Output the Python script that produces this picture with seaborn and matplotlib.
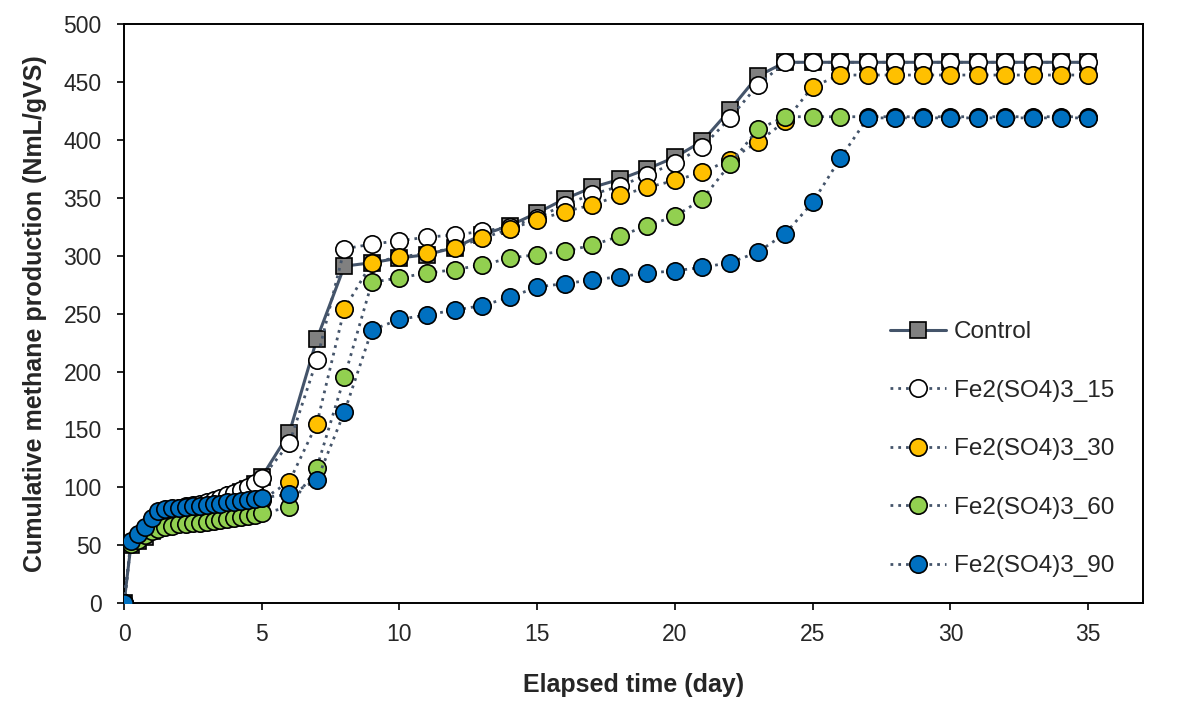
import matplotlib
matplotlib.use("Agg")
import matplotlib.pyplot as plt
import seaborn as sns

# Elapsed time (day): every 6 h for the first 5 days, then daily
days = [0, 0.25, 0.5, 0.75, 1, 1.25, 1.5, 1.75, 2, 2.25, 2.5, 2.75, 3, 3.25, 3.5,
        3.75, 4, 4.25, 4.5, 4.75, 5,
        6, 7, 8, 9, 10, 11, 12, 13, 14, 15, 16, 17, 18, 19, 20,
        21, 22, 23, 24, 25, 26, 27, 28, 29, 30, 31, 32, 33, 34, 35]

# Cumulative methane production (NmL/gVS)
control = [0, 50, 54, 57, 62, 66, 70, 73, 76, 78, 80, 82, 84, 86, 88, 90, 93, 96, 99, 103, 109,
           147, 228, 291, 294, 298, 301, 307, 318, 326, 337, 349, 359, 366, 375, 385,
           399, 426, 455, 467, 467, 467, 467, 467, 467, 467, 467, 467, 467, 467, 467]
fe_15 = [0, 52, 58, 65, 72, 78, 80, 81.5, 82.5, 83.5, 84.5, 86, 87.5, 89, 91, 93, 95, 97.5, 100.5, 104, 108,
         138, 210, 306, 310, 313, 316, 318, 321, 325, 333, 344, 353, 360, 370, 380,
         394, 419, 447, 467, 467, 467, 467, 467, 467, 467, 467, 467, 467, 467, 467]
fe_30 = [0, 52, 58, 64, 72, 78, 80, 80.5, 81, 82, 82.5, 83, 84, 84.5, 85, 86, 86.5, 87, 88, 88.5, 89,
         105, 155, 254, 294, 299, 302, 307, 315, 323, 331, 338, 344, 352, 359, 365,
         372, 383, 398, 416, 446, 456, 456, 456, 456, 456, 456, 456, 456, 456, 456]
fe_60 = [0, 51, 55, 59, 62, 64.5, 66, 67, 68, 68.5, 69, 69.5, 70, 71, 71.5, 72.5, 73.5, 74.5, 75.5, 76.5, 77.5,
         83, 117, 195, 277, 281, 285, 288, 292, 298, 301, 304, 309, 317, 326, 334,
         349, 379, 409, 420, 420, 420, 420, 420, 420, 420, 420, 420, 420, 420, 420]
fe_90 = [0, 54, 60, 66, 74, 80, 81.5, 82, 82.5, 83, 83.5, 84, 85, 85.5, 86, 87, 87.5, 88.5, 89, 90, 91,
         94, 106, 165, 236, 245, 249, 253, 257, 264, 273, 276, 279, 282, 285, 287,
         290, 294, 303, 319, 346, 384, 419, 419, 419, 419, 419, 419, 419, 419, 419]

x_ticks = [0, 5, 10, 15, 20, 25, 30, 35]
y_ticks = [0, 50, 100, 150, 200, 250, 300, 350, 400, 450, 500]

sns.set_style("ticks")
plt.rcParams['font.family'] = ['Liberation Sans', 'DejaVu Sans']

fig, ax = plt.subplots(figsize=(11.81, 7.08), dpi=100)
fig.subplots_adjust(left=0.105, right=0.968, top=0.966, bottom=0.148)

line_col = '#44546A'

# Control: solid line, grey squares
sns.lineplot(x=days, y=control, ax=ax, color=line_col, linewidth=2.2,
             marker='s', markersize=12, markerfacecolor='#808080',
             markeredgecolor='black', markeredgewidth=1.2, label='Control', zorder=2)

# Fe2(SO4)3 doses: dotted lines, coloured circles
treatments = [
    (fe_15, 'white', 'Fe2(SO4)3_15'),
    (fe_30, '#FFC000', 'Fe2(SO4)3_30'),
    (fe_60, '#92D050', 'Fe2(SO4)3_60'),
    (fe_90, '#0070C0', 'Fe2(SO4)3_90'),
]
for i, (vals, fill, name) in enumerate(treatments):
    sns.lineplot(x=days, y=vals, ax=ax, color=line_col, linewidth=2.0,
                 linestyle=(0, (1, 1.8)), marker='o', markersize=12.5,
                 markerfacecolor=fill, markeredgecolor='black', markeredgewidth=1.2,
                 label=name, zorder=3 + i)

ax.set_xlim(0, 37)
ax.set_ylim(0, 500)
ax.set_xticks(x_ticks)
ax.set_yticks(y_ticks)
ax.tick_params(axis='both', labelsize=16.5, length=5, width=1.2, direction='out',
               color='black')
ax.tick_params(axis='x', pad=9)
ax.tick_params(axis='y', pad=11)
for side in ['left', 'right', 'top', 'bottom']:
    ax.spines[side].set_visible(True)
    ax.spines[side].set_color('black')
    ax.spines[side].set_linewidth(1.4)

ax.set_xlabel('Elapsed time (day)', fontsize=18, fontweight='bold', labelpad=20)
ax.set_ylabel('Cumulative methane production (NmL/gVS)', fontsize=18,
              fontweight='bold', labelpad=12)

leg = ax.legend(loc='center left', bbox_to_anchor=(0.752, 0.266), frameon=False,
                fontsize=17.5, handlelength=2.3, handletextpad=0.3, labelspacing=1.5,
                borderaxespad=0, borderpad=0, numpoints=1)

plt.savefig('out.png', dpi=100)
